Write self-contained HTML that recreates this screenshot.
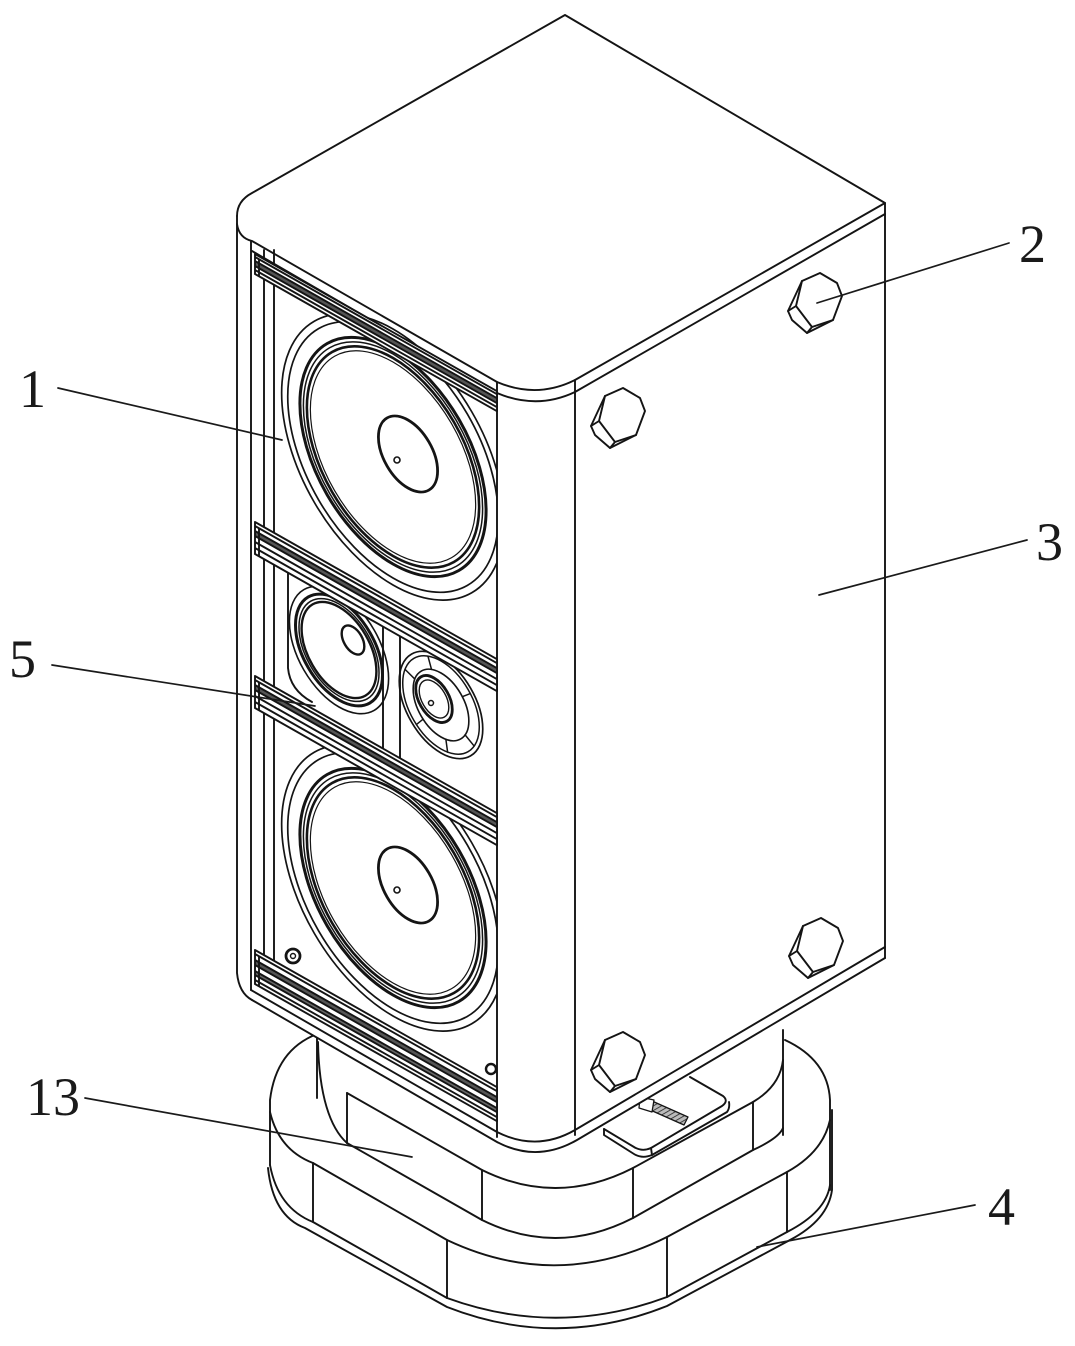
<!DOCTYPE html>
<html>
<head>
<meta charset="utf-8">
<style>
html,body{margin:0;padding:0;background:#fff;}
svg{display:block;}
text{font-family:"Liberation Serif",serif;font-size:54px;fill:#1a1a1a;}
</style>
</head>
<body>
<svg width="1075" height="1346" viewBox="0 0 1075 1346" xmlns="http://www.w3.org/2000/svg">
<defs>
<clipPath id="fc"><rect x="274" y="240" width="223" height="900"/></clipPath>
<pattern id="hatch" width="4" height="4" patternUnits="userSpaceOnUse" patternTransform="rotate(60)">
<rect width="4" height="4" fill="#bbb"/>
<line x1="0" y1="0" x2="0" y2="4" stroke="#222" stroke-width="1.6"/>
</pattern>
</defs>
<rect width="1075" height="1346" fill="#fff"/>
<g fill="none" stroke="#141414" stroke-width="1.9" stroke-linejoin="round" stroke-linecap="round">

<!-- ===== BASE tier B (4) ===== -->
<path d="M317,1034 Q276,1050 270,1100 L270,1165"/>
<path d="M270,1112 Q279,1150 313,1163 L447,1240 Q557,1292 667,1237 L787,1172 Q823,1152 830,1120"/>
<path d="M785,1040 Q828,1060 830,1100 L830,1190"/>
<path d="M313,1163V1222 M447,1240V1298 M667,1237V1297 M787,1172V1232"/>
<path d="M270,1165 Q278,1208 313,1222 L447,1298 Q557,1338 667,1297 L787,1232 Q826,1212 830,1185"/>
<path d="M268,1168 Q273,1216 305,1228 L447,1307 Q557,1350 667,1306 L790,1240 Q828,1220 832,1190 L832,1110"/>

<!-- ===== BASE tier M (13) ===== -->
<path d="M317,1030 L317,1098"/>
<path d="M318,1042 C319,1095 330,1128 347,1143"/>
<path d="M347,1093 L482,1170 Q557,1207 633,1168 L753,1102 Q780,1086 783,1060"/>
<path d="M783,1030 L783,1135"/>
<path d="M347,1093V1143 M482,1170V1220 M633,1168V1218 M753,1102V1150"/>
<path d="M347,1143 L482,1220 Q557,1257 633,1218 L753,1150 Q779,1138 783,1128"/>

<!-- ===== plug plate ===== -->
<path fill="#fff" d="M604,1129 L634,1147 Q642,1152 651,1148 L722,1106 Q729,1101 723,1096 L690,1077 L600,1110 Z" stroke="none"/>
<path d="M604,1129 L634,1147 Q642,1152 651,1148 L722,1106 Q729,1101 723,1096 L690,1077"/>
<path d="M604,1129 L604,1135 L634,1154 Q642,1159 652,1155 L727,1112 Q730,1108 729,1102"/>
<path d="M651,1148 L652,1155"/>
<path d="M652,1101 L688,1117 L684,1125 L648,1109 Z" fill="url(#hatch)" stroke-width="1.3"/>
<path d="M640,1097 L654,1100 L652,1112 L639,1108 Z" fill="#fff" stroke-width="1.3"/>

<!-- ===== BODY silhouette (white) ===== -->
<path fill="#fff" stroke="none" d="M252,193 L565,15 L885,203 L885,958 L577,1140 Q537,1163 497,1142 L252,1000 Q239,993 237,973 L237,216 Q237,201 252,193 Z"/>

<!-- top face -->
<path d="M237,216 Q237,201 252,193 L565,15 L885,203 L885,958"/>
<path d="M237,224 Q239,238 252,241 L497,382 Q537,399 575,380 L885,203"/>
<path d="M252,251 L497,393 Q537,410 575,392 L885,214"/>

<!-- vertical edges -->
<path d="M237,216 V973 Q239,993 252,1000 M251,241 V990 M497,382 V1137 M575,380 V1135"/>
<!-- bottom edges -->
<path d="M251,990 L497,1132 Q537,1152 575,1130 L885,947"/>
<path d="M252,1000 L497,1142 Q537,1163 577,1140 L885,958"/>

<!-- frame verticals -->
<path d="M264,250 V962 M274,250 V962"/>
<path d="M288,560 V668 Q290,690 312,702"/>
<!-- mid dividers -->
<path d="M383,612 V762 M400,612 V762"/>

<!-- ===== SPEAKERS ===== -->
<g clip-path="url(#fc)">
 <!-- woofer 1 -->
 <g transform="matrix(0.87,0.5,0,1,393,457)">
  <circle r="128" vector-effect="non-scaling-stroke" stroke-width="1.7"/>
  <circle r="121" vector-effect="non-scaling-stroke" stroke-width="1.7"/>
  <circle r="107" vector-effect="non-scaling-stroke" stroke-width="3"/>
  <circle r="103" vector-effect="non-scaling-stroke" stroke-width="1.5"/>
  <circle r="99" vector-effect="non-scaling-stroke" stroke-width="2.6"/>
  <circle r="95" vector-effect="non-scaling-stroke" stroke-width="1.2"/>
 </g>
 <g transform="matrix(0.87,0.5,0,1,408,454)">
  <circle r="34" vector-effect="non-scaling-stroke" stroke-width="2.8"/>
 </g>
 <circle cx="397" cy="460" r="3" stroke-width="1.6"/>

 <!-- woofer 2 -->
 <g transform="matrix(0.87,0.5,0,1,393,888)">
  <circle r="128" vector-effect="non-scaling-stroke" stroke-width="1.7"/>
  <circle r="121" vector-effect="non-scaling-stroke" stroke-width="1.7"/>
  <circle r="107" vector-effect="non-scaling-stroke" stroke-width="3"/>
  <circle r="103" vector-effect="non-scaling-stroke" stroke-width="1.5"/>
  <circle r="99" vector-effect="non-scaling-stroke" stroke-width="2.6"/>
  <circle r="95" vector-effect="non-scaling-stroke" stroke-width="1.2"/>
 </g>
 <g transform="matrix(0.87,0.5,0,1,408,885)">
  <circle r="34" vector-effect="non-scaling-stroke" stroke-width="2.8"/>
 </g>
 <circle cx="397" cy="890" r="3" stroke-width="1.6"/>

 <!-- left mid driver -->
 <g transform="matrix(0.87,0.5,0,1,339,650)">
  <circle r="57" vector-effect="non-scaling-stroke" stroke-width="1.6"/>
  <circle r="50" vector-effect="non-scaling-stroke" stroke-width="3"/>
  <circle r="46" vector-effect="non-scaling-stroke" stroke-width="1.5"/>
  <circle r="43" vector-effect="non-scaling-stroke" stroke-width="2.4"/>
 </g>
 <g transform="matrix(0.87,0.5,0,1,353,640)">
  <circle r="13" vector-effect="non-scaling-stroke" stroke-width="2.4"/>
 </g>

 <!-- tweeter -->
 <g transform="matrix(0.87,0.5,0,1,441,705)">
  <circle r="48" vector-effect="non-scaling-stroke" stroke-width="1.7"/>
  <circle r="44" vector-effect="non-scaling-stroke" stroke-width="1.5"/>
  <circle r="32" vector-effect="non-scaling-stroke" stroke-width="1.6"/>
  <path vector-effect="non-scaling-stroke" stroke-width="1.5" d="M27.7,16 L38.1,22 M5.6,31.5 L7.6,43.3 M-20.6,24.5 L-28.3,33.7 M-30.1,-10.9 L-41.3,-15 M-10.9,-30.1 L-15,-41.3 M24.5,-20.6 L33.7,-28.3"/>
 </g>
 <g transform="matrix(0.87,0.5,0,1,434,699)">
  <circle r="21" vector-effect="non-scaling-stroke" stroke-width="2.8"/>
  <circle r="17" vector-effect="non-scaling-stroke" stroke-width="1.4"/>
 </g>
 <circle cx="431" cy="703" r="2.5" stroke-width="1.5"/>
</g>

<!-- screws -->
<circle cx="293" cy="956" r="7" stroke-width="2.8"/>
<circle cx="293" cy="956" r="2.5" stroke-width="1.4"/>
<circle cx="491" cy="1069" r="5" stroke-width="2.4"/>

<!-- ===== RAILS ===== -->
<!-- rail 1 -->
<g transform="translate(255,254) matrix(1,0.567,0,1,0,0)">
 <rect x="0" y="0" width="242" height="20" fill="#fff" stroke="none"/>
 <rect x="0" y="7" width="242" height="5" fill="#555" stroke="none"/>
 <path vector-effect="non-scaling-stroke" d="M0,0H242 M0,3H242 M0,7H242 M0,12H242 M0,16H242 M0,20H242 M0,0V20 M242,0V20 M4,3V20"/>
</g>
<!-- rail 2 -->
<g transform="translate(255,522) matrix(1,0.567,0,1,0,0)">
 <rect x="0" y="0" width="242" height="32" fill="#fff" stroke="none"/>
 <rect x="0" y="9" width="242" height="5" fill="#555" stroke="none"/>
 <path vector-effect="non-scaling-stroke" d="M0,0H242 M0,4H242 M0,9H242 M0,14H242 M0,20H242 M0,26H242 M0,32H242 M0,0V32 M242,0V32 M4,4V32"/>
</g>
<!-- rail 3 -->
<g transform="translate(255,676) matrix(1,0.567,0,1,0,0)">
 <rect x="0" y="0" width="242" height="32" fill="#fff" stroke="none"/>
 <rect x="0" y="9" width="242" height="5" fill="#555" stroke="none"/>
 <path vector-effect="non-scaling-stroke" d="M0,0H242 M0,4H242 M0,9H242 M0,14H242 M0,20H242 M0,26H242 M0,32H242 M0,0V32 M242,0V32 M4,4V32"/>
</g>
<!-- rail 4 -->
<g transform="translate(255,950) matrix(1,0.567,0,1,0,0)">
 <rect x="0" y="0" width="242" height="34" fill="#fff" stroke="none"/>
 <rect x="0" y="10" width="242" height="5" fill="#555" stroke="none"/>
 <rect x="0" y="21" width="242" height="4" fill="#666" stroke="none"/>
 <path vector-effect="non-scaling-stroke" d="M0,0H242 M0,4H242 M0,10H242 M0,15H242 M0,21H242 M0,25H242 M0,30H242 M0,34H242 M0,0V34 M242,0V34 M4,4V34"/>
</g>

<!-- ===== BOLTS ===== -->
<g transform="translate(815,303)">
 <path fill="#fff" d="M-27,8 L-13,-22 L5,-30 L22,-20 L27,-7 L18,17 L-8,30 L-23,17 Z"/>
 <path d="M-13,-22 L-19,3 L-3,24 L18,17 M-19,3 L-27,8 M-3,24 L-8,30"/>
</g>
<g transform="translate(618,418)">
 <path fill="#fff" d="M-27,8 L-13,-22 L5,-30 L22,-20 L27,-7 L18,17 L-8,30 L-23,17 Z"/>
 <path d="M-13,-22 L-19,3 L-3,24 L18,17 M-19,3 L-27,8 M-3,24 L-8,30"/>
</g>
<g transform="translate(816,948)">
 <path fill="#fff" d="M-27,8 L-13,-22 L5,-30 L22,-20 L27,-7 L18,17 L-8,30 L-23,17 Z"/>
 <path d="M-13,-22 L-19,3 L-3,24 L18,17 M-19,3 L-27,8 M-3,24 L-8,30"/>
</g>
<g transform="translate(618,1062)">
 <path fill="#fff" d="M-27,8 L-13,-22 L5,-30 L22,-20 L27,-7 L18,17 L-8,30 L-23,17 Z"/>
 <path d="M-13,-22 L-19,3 L-3,24 L18,17 M-19,3 L-27,8 M-3,24 L-8,30"/>
</g>

<!-- ===== LEADERS ===== -->
<g stroke="#1a1a1a" stroke-width="1.7">
 <path d="M58,388 L282,440"/>
 <path d="M52,665 L315,706"/>
 <path d="M1009,243 L817,303"/>
 <path d="M1027,540 L819,595"/>
 <path d="M85,1098 L412,1157"/>
 <path d="M975,1205 L757,1247"/>
</g>
</g>

<!-- ===== LABELS ===== -->
<text x="19" y="407">1</text>
<text x="9" y="677">5</text>
<text x="1019" y="262">2</text>
<text x="1036" y="560">3</text>
<text x="26" y="1115">13</text>
<text x="988" y="1225">4</text>
</svg>
</body>
</html>
